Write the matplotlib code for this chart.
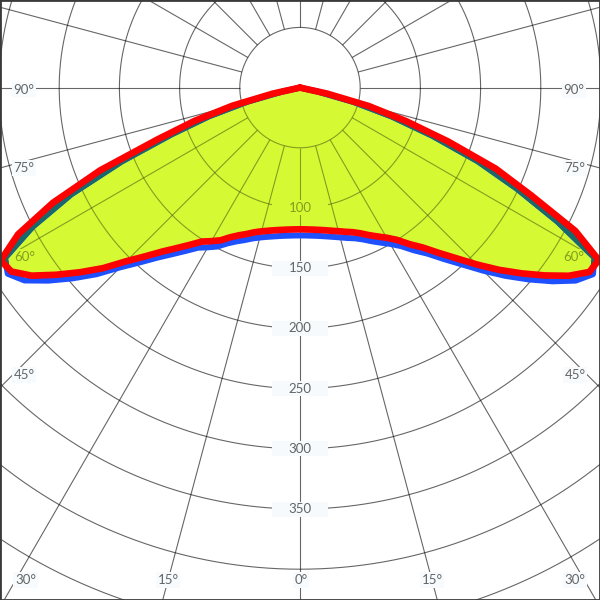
import numpy as np
import matplotlib
matplotlib.use('Agg')
import matplotlib.pyplot as plt
from matplotlib.patches import Rectangle
from matplotlib.transforms import IdentityTransform

# ---------------- data ----------------
angles = [0, 2.5, 5, 7.5, 10, 12.5, 15, 17.5, 20, 22.5, 25, 27.5, 30, 32.5, 35, 37.5,
          40, 42.5, 45, 47.5, 50, 52.5, 55, 57.5, 60, 62.5, 65, 67.5, 70, 72.5, 75,
          77.5, 80, 82.5, 85, 87.5, 90]

red_left = [117.7, 117.9, 118.4, 119.2, 120.3, 121.8, 123.6, 126.0, 129.4, 132.8,
            137.2, 143.0, 147.3, 151.6, 159.4, 168.0, 177.7, 190.0, 203.9, 222.0,
            238.6, 255.4, 272.3, 284.3, 287.0, 264.0, 226.5, 179.7, 126.0, 91.6,
            58.0, 23.0, 0, 0, 0, 0, 0]
red_right = [117.7, 117.9, 118.4, 119.2, 120.3, 121.8, 123.5, 125.6, 127.8, 131.0,
             135.2, 139.4, 144.0, 150.0, 158.8, 167.4, 179.2, 192.3, 207.8, 224.0,
             240.0, 256.3, 272.5, 285.0, 286.5, 257.8, 212.0, 176.0, 131.0, 92.0,
             59.0, 23.0, 0, 0, 0, 0, 0]
blue_left = [122.8, 123.0, 123.5, 124.3, 125.5, 127.0, 128.9, 131.4, 134.8, 138.3,
             142.8, 148.8, 153.2, 157.7, 165.6, 174.4, 184.4, 196.9, 211.1, 229.5,
             246.5, 263.4, 279.3, 287.8, 283.0, 250.5, 209.7, 160.4, 113.6, 79.5,
             45.4, 14.7, 0, 0, 0, 0, 0]
blue_right = [122.8, 123.0, 123.5, 124.3, 125.5, 127.0, 128.8, 131.0, 133.2, 136.5,
              140.8, 145.2, 149.9, 156.1, 165.0, 173.8, 185.9, 199.2, 215.0, 231.5,
              247.9, 264.3, 279.5, 288.5, 282.5, 241.3, 199.0, 159.8, 117.0, 80.1,
              46.0, 14.7, 0, 0, 0, 0, 0]

ring_values = [50, 100, 150, 200, 250, 300, 350, 400, 450]
ring_labels = [100, 150, 200, 250, 300, 350]
spoke_angles = list(range(0, 360, 15))
angle_labels = ['90°', '75°', '60°', '45°', '30°', '15°', '0°',
                '15°', '30°', '45°', '60°', '75°', '90°']

# ---------------- layout / style ----------------
W = H = 600
angle_label_px = [(24, 89.5), (24, 168), (25, 257), (24, 375), (25.5, 580), (168, 580),
                  (301, 580), (432, 580), (575, 580), (575, 375), (574, 257),
                  (575, 168), (574, 90)]
RMAX = 500
center_px = (300, 87.6)
scale = 1.204  # px per unit
R_frac = RMAX * scale / W

FILL = '#d5fa33'
RED = '#ff0000'
BLUE = '#1e50ff'
TEAL = '#17696c'
BOX = '#f6fafc'
TXT = (0, 0, 0, 0.6)
FONT = ['Lato', 'DejaVu Sans']

fig = plt.figure(figsize=(6, 6), dpi=100)
fig.patch.set_facecolor('white')
cx = center_px[0] / W
cy = 1 - center_px[1] / H
ax = fig.add_axes([cx - R_frac, cy - R_frac, 2 * R_frac, 2 * R_frac], projection='polar')
ax.set_theta_zero_location('S')
ax.set_theta_direction(1)
ax.set_ylim(0, RMAX)
ax.axis('off')


def full(left, right):
    return np.concatenate([np.array(left[::-1], float), np.array(right[1:], float)])


theta = np.deg2rad(np.concatenate([-np.array(angles[::-1], float), np.array(angles[1:], float)]))
red_r = full(red_left, red_right)
blue_r = full(blue_left, blue_right)

# fill
poly = ax.fill(theta, red_r, color=FILL, lw=0, zorder=1)[0]

# grid
grid_kw = dict(color='black', alpha=0.6, lw=0.8, zorder=2, solid_capstyle='butt')
tt = np.linspace(0, 2 * np.pi, 1441)
for rv in ring_values:
    ax.plot(tt, np.full_like(tt, rv), **grid_kw)
for a in spoke_angles:
    ax.plot([np.deg2rad(a)] * 2, [ring_values[0], RMAX], **grid_kw)

fig.canvas.draw()


def inside(disp):
    return poly.contains_point(disp)


# ring labels
for v in ring_labels:
    p = ax.transData.transform((0, v))
    fc = FILL if inside(p) else BOX
    ax.add_patch(Rectangle((p[0] - 28, p[1] - 7.5), 56, 15, transform=IdentityTransform(),
                           fc=fc, ec='none', zorder=3, clip_on=False))
    ax.text(0, v, str(v), ha='center', va='center', fontsize=9.5, family=FONT,
            fontweight='normal', color=TXT, zorder=4)

# angle labels
for s, (px, py) in zip(angle_labels, angle_label_px):
    disp = fig.transFigure.transform((px / W, 1 - py / H))
    fc = FILL if inside(disp) else '#f8fbfd'
    ax.text(px / W, 1 - py / H, s, transform=fig.transFigure, ha='center', va='center',
            fontsize=9.5, family=FONT, fontweight='normal', color=TXT, zorder=4,
            clip_on=False,
            bbox=dict(boxstyle='square,pad=0.12', fc=fc, ec='none'))

# translucent veil of the fill colour over grid and labels inside the curve
ax.fill(theta, red_r, color=FILL, alpha=0.38, lw=0, zorder=4.5)

# curves
ax.plot(theta, blue_r, color=BLUE, lw=4.3, zorder=5,
        solid_joinstyle='round', solid_capstyle='round')
teal, = ax.plot(theta, blue_r, color=TEAL, lw=4.3, zorder=6,
                solid_joinstyle='round', solid_capstyle='round')
teal.set_clip_path(poly)
ax.plot(theta, red_r, color=RED, lw=4.8, zorder=7,
        solid_joinstyle='round', solid_capstyle='round')

# frame
fig.patches.append(Rectangle((0, 0), 1, 1, transform=fig.transFigure, fill=False,
                             ec='#3a3a3a', lw=2.0, zorder=10))

fig.savefig('out.png', dpi=100)
